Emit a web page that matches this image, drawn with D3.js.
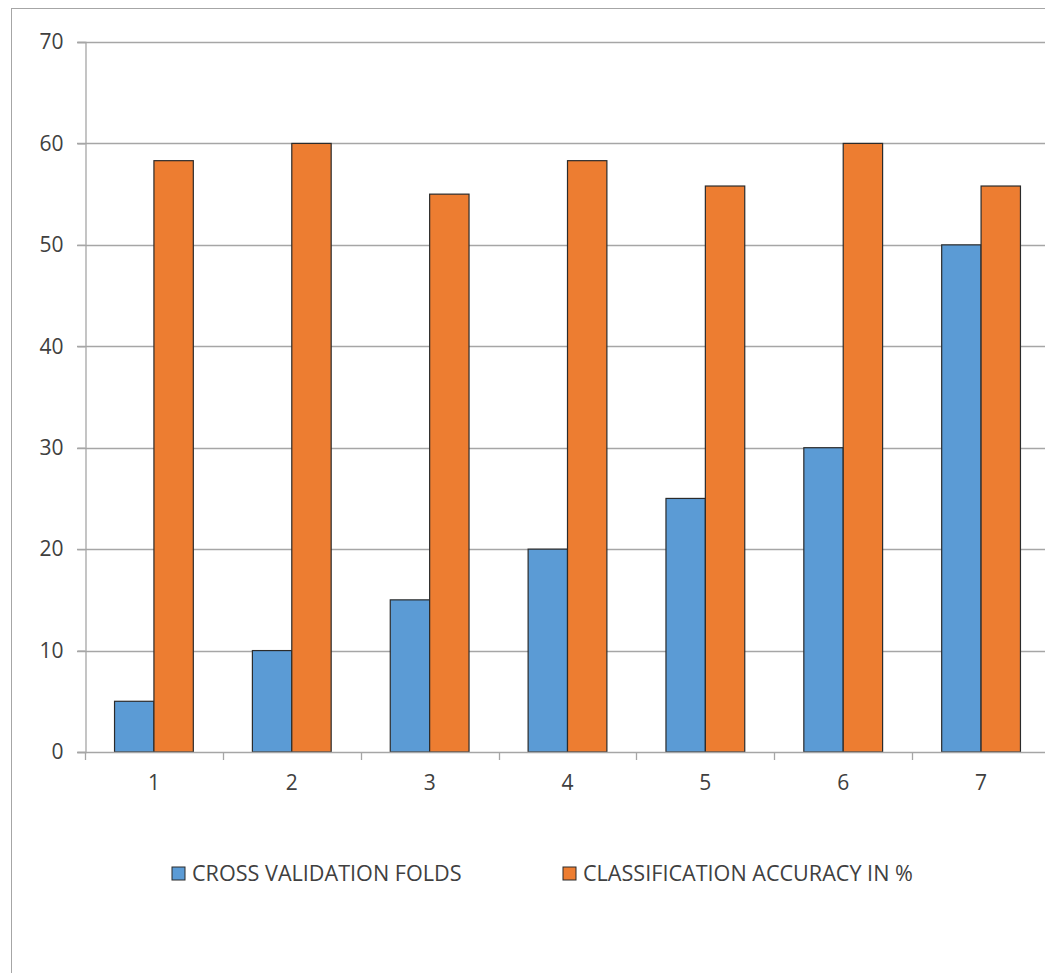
<!DOCTYPE html>
<html>
<head>
<meta charset="utf-8">
<script src="https://cdn.jsdelivr.net/npm/d3@7"></script>
<style>
  html, body { margin: 0; padding: 0; background: #fff; }
  svg { display: block; }
  text { font-family: "Open Sans", "Noto Sans", sans-serif; fill: #404040; }
</style>
</head>
<body>
<svg id="chart" width="1045" height="973"></svg>
<script>
// Data
const folds = ["1", "2", "3", "4", "5", "6", "7"];
const crossValidationFolds = [5, 10, 15, 20, 25, 30, 50];
const classificationAccuracy = [58.3, 60, 55, 58.3, 55.8, 60, 55.8];
const seriesNames = ["CROSS VALIDATION FOLDS", "CLASSIFICATION ACCURACY IN %"];
const seriesColors = ["#5B9BD5", "#ED7D31"];
const yTicks = [0, 10, 20, 30, 40, 50, 60, 70];

const svg = d3.select("#chart");

// Outer chart frame
svg.append("rect")
  .attr("x", 11.5).attr("y", 8.5)
  .attr("width", 1100).attr("height", 1100)
  .attr("fill", "none").attr("stroke", "#a6a6a6").attr("stroke-width", 1);

const plot = { left: 85, right: 1050, top: 42, bottom: 752 };

const x = d3.scaleBand().domain(folds).range([plot.left, plot.right]).paddingInner(0).paddingOuter(0);
const inner = d3.scaleBand().domain([0, 1]).range([0, x.bandwidth()]).paddingInner(0).paddingOuter(0.75);
const y = d3.scaleLinear().domain([0, 70]).range([plot.bottom, plot.top]);

// Gridlines
svg.append("g")
  .selectAll("line")
  .data(yTicks.filter(t => t > 0))
  .join("line")
  .attr("x1", plot.left - 8).attr("x2", plot.right)
  .attr("y1", d => Math.round(y(d)) + 0.5).attr("y2", d => Math.round(y(d)) + 0.5)
  .attr("stroke", "#a6a6a6").attr("stroke-width", 1.3);

// Y axis
const yAxis = svg.append("g")
  .attr("transform", `translate(${plot.left + 0.5},0)`)
  .call(d3.axisLeft(y).tickValues(yTicks).tickSize(8).tickPadding(14).tickFormat(d3.format("d")));
yAxis.select(".domain").attr("stroke", "#a6a6a6").attr("stroke-width", 1.3);
yAxis.selectAll(".tick line").attr("stroke", "#a6a6a6").attr("stroke-width", 1.3);
yAxis.selectAll(".tick text").attr("font-size", 21).attr("fill", "#404040")
  .attr("font-family", "Open Sans, Noto Sans, sans-serif");

// Bars
const series = [crossValidationFolds, classificationAccuracy];
series.forEach((vals, si) => {
  svg.append("g")
    .selectAll("rect")
    .data(vals)
    .join("rect")
    .attr("x", (d, i) => x(folds[i]) + inner(si))
    .attr("width", inner.bandwidth())
    .attr("y", d => y(d))
    .attr("height", d => y(0) - y(d))
    .attr("fill", seriesColors[si])
    .attr("stroke", "#2b2b2b").attr("stroke-width", 1.2);
});

// X axis
const xAxis = svg.append("g")
  .attr("transform", `translate(0,${Math.round(y(0)) + 0.5})`)
  .call(d3.axisBottom(x).tickSize(0).tickPadding(23));
xAxis.select(".domain").attr("stroke", "#a6a6a6").attr("stroke-width", 1.3)
  .attr("d", `M${plot.left - 8},0H${plot.right}`);
xAxis.selectAll(".tick text").attr("font-size", 21).attr("fill", "#404040")
  .attr("font-family", "Open Sans, Noto Sans, sans-serif");
// Category boundary ticks
svg.append("g")
  .selectAll("line")
  .data(d3.range(folds.length + 1))
  .join("line")
  .attr("x1", i => Math.round(plot.left + i * x.bandwidth()) + 0.5)
  .attr("x2", i => Math.round(plot.left + i * x.bandwidth()) + 0.5)
  .attr("y1", y(0)).attr("y2", y(0) + 8)
  .attr("stroke", "#a6a6a6").attr("stroke-width", 1.3);

// Legend
const legendItems = [
  { x: 172, name: seriesNames[0], color: seriesColors[0] },
  { x: 563, name: seriesNames[1], color: seriesColors[1] }
];
const lg = svg.append("g").selectAll("g").data(legendItems).join("g")
  .attr("transform", d => `translate(${d.x},867)`);
lg.append("rect").attr("width", 13).attr("height", 13)
  .attr("fill", d => d.color).attr("stroke", "#2b2b2b").attr("stroke-width", 1);
lg.append("text").attr("x", 20).attr("y", 14)
  .attr("font-size", 21.6).text(d => d.name);
</script>
</body>
</html>
